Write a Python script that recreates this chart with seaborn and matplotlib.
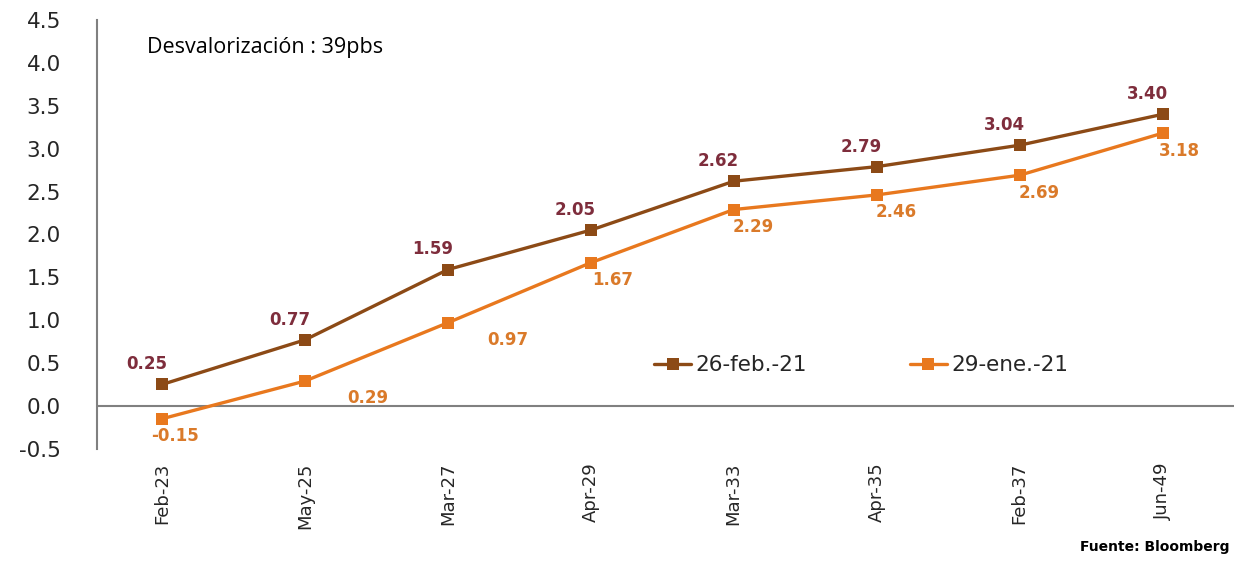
import numpy as np
import pandas as pd
import matplotlib.pyplot as plt
import seaborn as sns

# Data
bonos = ['Feb-23', 'May-25', 'Mar-27', 'Apr-29', 'Mar-33', 'Apr-35', 'Feb-37', 'Jun-49']
feb_26 = [0.25, 0.77, 1.59, 2.05, 2.62, 2.79, 3.04, 3.40]
ene_29 = [-0.15, 0.29, 0.97, 1.67, 2.29, 2.46, 2.69, 3.18]
series_names = ['26-feb.-21', '29-ene.-21']

line_colors = ['#8C4A16', '#E8781E']
label_colors = ['#7E2D3C', '#DA7A2A']
# horizontal nudge (points) of the lower-series labels, as placed in the source
ene_dx = [9, 45, 43, 16, 14, 14, 14, 12]

df = pd.DataFrame({
    'bono': bonos * 2,
    'x': list(range(len(bonos))) * 2,
    'tasa': feb_26 + ene_29,
    'serie': [series_names[0]] * len(bonos) + [series_names[1]] * len(bonos),
})

sns.set_style('white')
plt.rcParams['font.family'] = ['DejaVu Sans']

fig = plt.figure(figsize=(12.34, 5.71), dpi=100)
ax = fig.add_axes([0.0786, 0.214, 0.9214, 0.751])

sns.lineplot(data=df, x='x', y='tasa', hue='serie', palette=line_colors,
             style='serie', markers=['s', 's'], dashes=False, markersize=8,
             linewidth=2.4, markeredgewidth=0, ax=ax)

# data labels
for xi, v in enumerate(feb_26):
    ax.annotate(f'{v:.2f}', (xi, v), xytext=(-11, 8), textcoords='offset points',
                ha='center', va='bottom', fontsize=12, fontweight='bold',
                color=label_colors[0])
for xi, v in enumerate(ene_29):
    ax.annotate(f'{v:.2f}', (xi, v), xytext=(ene_dx[xi], -6), textcoords='offset points',
                ha='center', va='top', fontsize=12, fontweight='bold',
                color=label_colors[1])

ax.axhline(0, color='#808080', linewidth=1.5, zorder=0)

ax.set_xlim(-0.455, 7.5)
ax.set_ylim(-0.5, 4.5)
yt = np.arange(-0.5, 4.51, 0.5)
ax.set_yticks(yt)
ax.set_yticklabels([f'{t:.1f}' for t in yt], fontsize=15.5)
ax.set_xticks(range(len(bonos)))
ax.set_xticklabels(bonos, rotation=90, fontsize=13)
ax.tick_params(axis='y', length=0, pad=26)
ax.tick_params(axis='x', length=0, pad=10)
ax.set_xlabel('')
ax.set_ylabel('')

for s in ['top', 'right', 'bottom']:
    ax.spines[s].set_visible(False)
ax.spines['left'].set_color('#808080')
ax.spines['left'].set_linewidth(1.5)

leg = ax.legend(loc='center', bbox_to_anchor=(0.672, 0.195), ncol=2, frameon=False,
                fontsize=15.5, handlelength=1.7, handletextpad=0.2, columnspacing=4.8)

fig.text(0.119, 0.916, 'Desvalorización : 39pbs', fontsize=15.5, family='Open Sans',
         color='black', va='center')
fig.text(0.996, 0.042, 'Fuente: Bloomberg', fontsize=10, fontweight='bold',
         color='black', va='center', ha='right')

fig.savefig('out.png', dpi=100)
